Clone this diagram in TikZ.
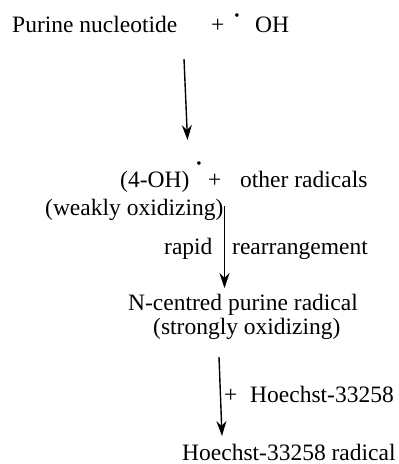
\documentclass[tikz,border=0pt]{standalone}
\usepackage{fontspec}
\setmainfont{Liberation Serif}
\usetikzlibrary{arrows.meta}
\begin{document}
\begin{tikzpicture}[x=1pt,y=-1pt,
  lbl/.style={anchor=base west,inner sep=0pt,font=\fontsize{23.5}{28}\selectfont},
  rdot/.style={anchor=center,inner sep=0pt,font=\fontsize{15}{16}\selectfont},
  rxn/.style={line width=1.4pt,-{Stealth[length=15pt,width=10pt,inset=5pt]}}]
\useasboundingbox (0,0) rectangle (399,464);
% row 1
\node[lbl] (pn) at (12,32) {Purine nucleotide};
\node[lbl] (p1) at (211,32) {+};
\node[rdot] (d1) at (237,17) {•};
\node[lbl] (oh) at (255,32) {OH};
% row 2
\node[lbl] (foh) at (120,187) {(4-OH)};
\node[rdot] (d2) at (199,165) {•};
\node[lbl] (p2) at (208,187) {+};
\node[lbl] (oth) at (240,187) {other radicals};
\node[lbl] (wk) at (45,215) {(weakly oxidizing)};
% arrow 2 labels
\node[lbl] (rap) at (164,254) {rapid};
\node[lbl] (rea) at (232,254) {rearrangement};
% row 3
\node[lbl] (nc) at (128,310) {N-centred purine radical};
\node[lbl] (so) at (153,334) {(strongly oxidizing)};
% arrow 3 label
\node[lbl] (p3) at (224,402) {+};
\node[lbl] (hoe) at (250,402) {Hoechst-33258};
% row 4
\node[lbl] (hr) at (182,460) {Hoechst-33258 radical};
% connectors
\coordinate (a1s) at (184,59);
\coordinate (a1e) at (187.5,140);
\coordinate (a2s) at (224.5,206);
\coordinate (a2e) at (224.5,288);
\coordinate (a3s) at (219,357);
\coordinate (a3e) at (222,436);
\draw[rxn] (a1s) -- (a1e);
\draw[rxn] (a2s) -- (a2e);
\draw[rxn] (a3s) -- (a3e);
\end{tikzpicture}
\end{document}
